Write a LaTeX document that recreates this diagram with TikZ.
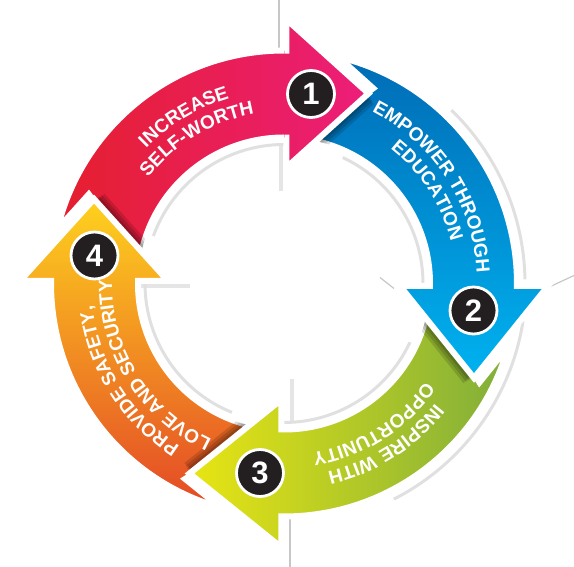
\documentclass[tikz,border=0pt]{standalone}
\usepackage{fontspec}
\newfontfamily\labfont{Liberation Sans}
\usetikzlibrary{decorations.text}
\definecolor{redA}{RGB}{229,31,46}
\definecolor{pinkA}{RGB}{236,30,122}
\definecolor{blueA}{RGB}{0,108,182}
\definecolor{blueB}{RGB}{0,178,240}
\definecolor{greenA}{RGB}{128,174,58}
\definecolor{yellowA}{RGB}{232,229,19}
\definecolor{yelB}{RGB}{254,210,30}
\definecolor{orB}{RGB}{242,140,38}
\definecolor{redB}{RGB}{228,72,38}
\definecolor{numblack}{RGB}{35,31,32}
\newcommand{\bandfont}{\labfont\bfseries\fontsize{19}{19}\selectfont}
\newcommand{\arctext}[3]{%
  \path[decorate, decoration={text along path, text={|\bandfont|#3}, text align=center, text color=white}]
    ({#1+70}:#2) arc[start angle={#1+70}, end angle={#1-70}, radius=#2];}
\newcommand{\tipshadow}[2]{%
  \begin{scope}[even odd rule]
    \clip (0,0) circle[radius=233] (0,0) circle[radius=146];
    \begin{scope}[rotate=#1]
      \foreach \s in {1,2,3,4}{%
        \fill[black, opacity=0.14, shift={(1.3*\s,-2.6*\s)}] (2.5,264) -- (#2,190) -- (2.5,116) -- cycle;}
    \end{scope}
  \end{scope}}
\begin{document}
\begin{tikzpicture}[x=1pt,y=1pt,
  arrowline/.style={draw=white, line width=6pt, line join=miter, miter limit=10},
  graydeco/.style={draw=black!12, line width=3pt},
  graywall/.style={draw=black!10, line width=4pt},
  graythin/.style={draw=black!22, line width=1.2pt},
  numcirc/.style={circle, fill=numblack, draw=white, line width=2.8pt, minimum size=47pt,
    inner sep=0pt, text=white, font=\labfont\bfseries\fontsize{31}{31}\selectfont}]
\useasboundingbox (-284,-283.5) rectangle (290,283.5);

% ---- grey 3D decorations behind the ring ----
\draw[graythin] (-5,283.5) -- (-5,150);
\draw[graythin] (6,-283.5) -- (6,-150);
\draw[graythin] (262,-5) -- (290,8);
\draw[graythin] (96,6) -- (110,-5);
\draw[graywall] (-3,92) -- (-3,140);
\draw[graywall] (8.5,-96) -- (8.5,-140);
\draw[graywall] (-94,-3) -- (-147,-3);
\draw[graydeco] (88:139) arc[start angle=88, end angle=160, radius=139];
\draw[graydeco] (-2:139) arc[start angle=-2, end angle=65, radius=139];
\draw[graydeco] (-92:139) arc[start angle=-92, end angle=-25, radius=139];
\draw[graydeco] (178:139) arc[start angle=178, end angle=248, radius=139];
\draw[graydeco] (46:241) arc[start angle=46, end angle=1, radius=241];
\draw[graydeco] (-9:242) arc[start angle=-9, end angle=-63, radius=242];

% ---- key points of the four arrows ----
\begin{scope}[rotate=0]
  \coordinate (a1oc) at (2.5,264); \coordinate (a1tip) at (84.5,190);
  \coordinate (a1ic) at (2.5,116); \coordinate (a1tp) at (-195.19,89.19);
  \coordinate (a1num) at (27,189.5);
\end{scope}
\begin{scope}[rotate=-90]
  \coordinate (a2oc) at (2.5,264); \coordinate (a2tip) at (94.5,190);
  \coordinate (a2ic) at (2.5,116); \coordinate (a2tp) at (-195.19,89.19);
  \coordinate (a2num) at (27,189.5);
\end{scope}
\begin{scope}[rotate=180]
  \coordinate (a3oc) at (2.5,264); \coordinate (a3tip) at (94.5,190);
  \coordinate (a3ic) at (2.5,116); \coordinate (a3tp) at (-195.454,98.888);
  \coordinate (a3num) at (24,189.5);
\end{scope}
\begin{scope}[rotate=90]
  \coordinate (a4oc) at (2.5,264); \coordinate (a4tip) at (84.5,190);
  \coordinate (a4ic) at (2.5,116); \coordinate (a4tp) at (-195.454,98.888);
  \coordinate (a4num) at (28,189.5);
\end{scope}

% ---- arrow 1 (red to pink) ----
\shadedraw[arrowline, left color=redA, right color=pinkA]
  (166.5:233) arc[start angle=166.5, end angle=89.385, radius=233] -- (a1oc) -- (a1tip) -- (a1ic)
  -- (89.019:146) arc[start angle=89.019, end angle=172, radius=146] -- (a1tp) -- cycle;
\tipshadow{90}{84.5}
% ---- arrow 4 (orange to yellow) ----
\shadedraw[arrowline, top color=yelB, middle color=orB, bottom color=redB]
  (254.32:233) arc[start angle=254.32, end angle=179.385, radius=233] -- (a4oc) -- (a4tip) -- (a4ic)
  -- (179.019:146) arc[start angle=179.019, end angle=262, radius=146] -- (a4tp) -- cycle;
\tipshadow{180}{94.5}
% ---- arrow 3 (green to yellow) ----
\shadedraw[arrowline, left color=yellowA, right color=greenA]
  (-15.68:233) arc[start angle=-15.68, end angle=-90.615, radius=233] -- (a3oc) -- (a3tip) -- (a3ic)
  -- (-90.981:146) arc[start angle=-90.981, end angle=-8, radius=146] -- (a3tp) -- cycle;
\tipshadow{-90}{94.5}
% ---- arrow 2 (blue) ----
\shadedraw[arrowline, top color=blueA, bottom color=blueB]
  (76.5:233) arc[start angle=76.5, end angle=-0.615, radius=233] -- (a2oc) -- (a2tip) -- (a2ic)
  -- (-0.981:146) arc[start angle=-0.981, end angle=82, radius=146] -- (a2tp) -- cycle;
\tipshadow{0}{84.5}
% ---- head of arrow 1 on top of the tail of arrow 2 ----
\begin{scope}
  \clip (0.5,100) rectangle (100,286);
  \shadedraw[arrowline, left color=redA, right color=pinkA]
    (166.5:233) arc[start angle=166.5, end angle=89.385, radius=233] -- (a1oc) -- (a1tip) -- (a1ic)
    -- (89.019:146) arc[start angle=89.019, end angle=172, radius=146] -- (a1tp) -- cycle;
\end{scope}

% ---- labels ----
\arctext{121}{193}{INCREASE}
\arctext{121}{172}{SELF-WORTH}
\arctext{33}{193}{EMPOWER THROUGH}
\arctext{33}{172}{EDUCATION}
\arctext{-57.7}{193}{INSPIRE WITH}
\arctext{-57.7}{172}{OPPORTUNITY}
\arctext{212}{193}{PROVIDE SAFETY,}
\arctext{212}{172}{LOVE AND SECURITY}

% ---- numbers ----
\node[numcirc] (n1) at (a1num) {1};
\node[numcirc] (n2) at (a2num) {2};
\node[numcirc] (n3) at (a3num) {3};
\node[numcirc] (n4) at (a4num) {4};
\end{tikzpicture}
\end{document}
